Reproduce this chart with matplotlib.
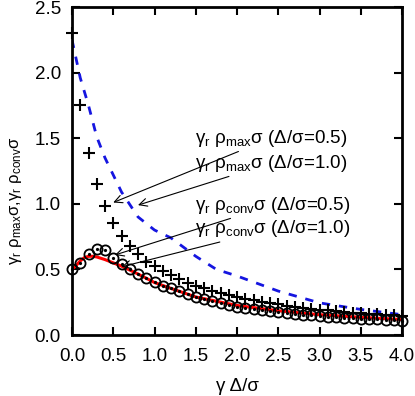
import numpy as np
import matplotlib
matplotlib.use('Agg')
import matplotlib.pyplot as plt

plt.rcParams['font.family'] = ['Liberation Sans', 'DejaVu Sans']
plt.rcParams['mathtext.fontset'] = 'custom'
plt.rcParams['mathtext.rm'] = 'Liberation Sans'
plt.rcParams['mathtext.it'] = 'Liberation Sans'

# rho_max sigma, Delta/sigma = 0.5 (crosses)
x_pts = np.round(np.arange(0, 41) * 0.1, 1)
cross = [2.30, 1.75, 1.39, 1.15, 0.98, 0.85, 0.755, 0.675, 0.615, 0.56,
         0.525, 0.49, 0.455, 0.425, 0.40, 0.375, 0.355, 0.337, 0.32, 0.305,
         0.29, 0.277, 0.265, 0.254, 0.243, 0.233, 0.224, 0.216, 0.208, 0.20,
         0.194, 0.188, 0.182, 0.176, 0.171, 0.166, 0.161, 0.157, 0.153, 0.149,
         0.145]

# rho_conv sigma, Delta/sigma = 0.5 (circles)
circ = [0.50, 0.546, 0.62, 0.655, 0.648, 0.587, 0.541, 0.503, 0.465, 0.432,
        0.407, 0.377, 0.356, 0.333, 0.313, 0.293, 0.275, 0.258, 0.243, 0.23,
        0.217, 0.207, 0.198, 0.19, 0.182, 0.175, 0.168, 0.162, 0.156, 0.151,
        0.146, 0.141, 0.137, 0.133, 0.129, 0.125, 0.122, 0.119, 0.116, 0.113,
        0.11]

# rho_max sigma, Delta/sigma = 1.0 (blue dashed)
x_blue = [0, 0.1, 0.2, 0.3, 0.4, 0.5, 0.6, 0.8, 1.0, 1.2, 1.5, 1.75, 2.0,
          2.5, 3.0, 3.5, 4.0]
blue = [2.25, 1.96, 1.75, 1.51, 1.35, 1.22, 1.09, 0.90, 0.80, 0.74, 0.60,
        0.50, 0.45, 0.335, 0.245, 0.195, 0.155]

# rho_conv sigma, Delta/sigma = 1.0 (red line)
x_red = [0, 0.05, 0.1, 0.15, 0.2, 0.25, 0.3, 0.4, 0.5, 0.6, 0.8, 1.0, 1.2,
         1.5, 2.0, 2.5, 3.0, 3.5, 4.0]
red = [0.50, 0.53, 0.565, 0.59, 0.60, 0.60, 0.595, 0.575, 0.55, 0.525,
       0.465, 0.40, 0.355, 0.29, 0.225, 0.185, 0.155, 0.135, 0.118]

labels = [r'$\mathrm{γ_r\ ρ_{max}σ}$ (Δ/σ=0.5)',
          r'$\mathrm{γ_r\ ρ_{max}σ}$ (Δ/σ=1.0)',
          r'$\mathrm{γ_r\ ρ_{conv}σ}$ (Δ/σ=0.5)',
          r'$\mathrm{γ_r\ ρ_{conv}σ}$ (Δ/σ=1.0)']
tips = [(0.50, 1.01), (0.80, 0.99), (0.52, 0.61), (0.60, 0.52)]
tails = [(1.49, 1.50), (1.49, 1.31), (1.49, 0.99), (1.49, 0.81)]

fig = plt.figure(figsize=(4.15, 3.96), dpi=100)
ax = fig.add_axes([0.1735, 0.154, 0.7952, 0.8283])

ax.plot(x_blue, blue, color='#1515e0', lw=2, ls=(0, (3, 3.2)))
ax.plot(x_red, red, color='red', lw=2.2, zorder=2)
ax.plot(x_pts, cross, ls='none', marker='+', ms=8, mew=1.5, color='black',
        clip_on=False, zorder=3)
ax.plot(x_pts, circ, ls='none', marker='o', ms=7.3, mew=1.3, mfc='none',
        mec='black', clip_on=False, zorder=3)
ax.plot(x_pts, circ, ls='none', marker='o', ms=1.3, color='black',
        clip_on=False, zorder=3)

for lab, tip, tail in zip(labels, tips, tails):
    ax.annotate(lab, xy=tip, xytext=tail, fontsize=13.5, va='center',
                ha='left',
                arrowprops=dict(arrowstyle='->', color='black', lw=0.8,
                                mutation_scale=14, shrinkA=0, shrinkB=0))

ax.set_xlim(0, 4)
ax.set_ylim(0, 2.5)
ax.set_xticks(np.arange(0, 4.01, 0.5))
ax.set_yticks(np.arange(0, 2.51, 0.5))
ax.xaxis.set_major_formatter(matplotlib.ticker.FormatStrFormatter('%.1f'))
ax.yaxis.set_major_formatter(matplotlib.ticker.FormatStrFormatter('%.1f'))
ax.tick_params(direction='in', length=6, width=1.5, labelsize=13.5,
               top=True, right=True)
ax.tick_params(axis='x', pad=9)
ax.tick_params(axis='y', pad=8)
for s in ax.spines.values():
    s.set_linewidth(2)
    s.set_zorder(5)

ax.set_xlabel(r'γ Δ/σ', fontsize=13.5, labelpad=10)
ax.set_ylabel(r'$\mathrm{γ_r\ ρ_{max}σ{,}γ_r\ ρ_{conv}σ}$', fontsize=12)
ax.yaxis.set_label_coords(-0.145, 0.41)

fig.savefig('out.png', dpi=100)
